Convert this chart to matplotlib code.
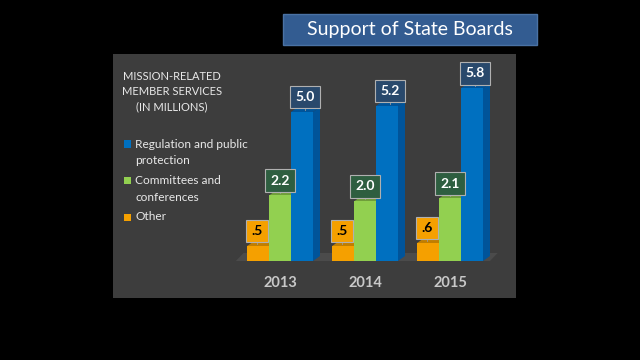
import matplotlib.pyplot as plt
from matplotlib.patches import Rectangle, Polygon
import numpy as np

# data
years = ['2013', '2014', '2015']
series = ['Regulation and public\nprotection', 'Committees and\nconferences', 'Other']
regulation = [5.0, 5.2, 5.8]
committees = [2.2, 2.0, 2.1]
other = [0.5, 0.5, 0.6]
value_text = {'Other': ['.5', '.5', '.6'],
              'Committees': ['2.2', '2.0', '2.1'],
              'Regulation': ['5.0', '5.2', '5.8']}

W, H = 640, 360
plt.rcParams['font.family'] = ['Lato', 'DejaVu Sans']

fig = plt.figure(figsize=(6.4, 3.6), dpi=100, facecolor='black')

def fx(px):
    return px / W

def fy(py):
    return 1 - py / H

# grey panel
fig.patches.append(Rectangle((fx(113), fy(298)), fx(516) - fx(113), fy(54) - fy(298),
                             transform=fig.transFigure, facecolor='#3d3d3d',
                             edgecolor='none', zorder=0))
# title box
fig.patches.append(Rectangle((fx(283), fy(45)), fx(537) - fx(283), fy(14) - fy(45),
                             transform=fig.transFigure, facecolor='#335c91',
                             edgecolor='#4a72a4', lw=1, zorder=0))
fig.text(fx(410), fy(30), 'Support of State Boards', color='white', fontsize=14,
         ha='center', va='center')

# legend
for i, line in enumerate(['MISSION-RELATED', 'MEMBER SERVICES', '(IN MILLIONS)']):
    fig.text(fx(172), fy(76 + i * 15.5), line, color='#e8e8e8', fontsize=8,
             ha='center', va='center')

colors = ['#0070c0', '#92d050', '#f5a000']
side_colors = ['#00549a', '#6f9e3a', '#c07e00']
leg_y = [144, 181, 217]
for lbl, c, y in zip(series, colors, leg_y):
    fig.patches.append(Rectangle((fx(124), fy(y + 3.5)), fx(7), 7 / H,
                                 transform=fig.transFigure, facecolor=c,
                                 edgecolor='none'))
    for j, part in enumerate(lbl.split('\n')):
        fig.text(fx(135), fy(y + j * 16), part, color='#e8e8e8', fontsize=8.6,
                 ha='left', va='center')

# bar axes: floor at y=261px, 29.8 px per unit; groups 85 px apart
unit_y = 29.8
unit_x = 85.0
x0_px = 280 - 0.6 * unit_x
ax = fig.add_axes([fx(x0_px), fy(261), 3.2 * unit_x / W, 7 * unit_y / H])
ax.set_zorder(3)
ax.patch.set_visible(False)
ax.set_xlim(-0.6, 2.6)
ax.set_ylim(0, 7)
ax.axis('off')

bw = 22 / unit_x
dx = 7 / unit_x
dy = 5 / unit_y

# floor
ax.add_patch(Polygon([(-0.52, 0), (2.47, 0), (2.47 + dx * 1.1, dy * 1.6),
                      (-0.52 + dx * 1.1, dy * 1.6)], closed=True,
                     facecolor='#4b4b4b', edgecolor='none', zorder=1))

x = np.arange(len(years))
groups = [(other, -1, 'Other'), (committees, 0, 'Committees'), (regulation, 1, 'Regulation')]
label_bg = {'Other': '#f5a000', 'Committees': '#2e5e40', 'Regulation': '#29496c'}
label_fg = {'Other': 'black', 'Committees': 'white', 'Regulation': 'white'}
cidx = {'Other': 2, 'Committees': 1, 'Regulation': 0}
label_dx = {'Other': -0.015, 'Committees': 0.0, 'Regulation': 0.035}

z = 2
for gi in range(len(years)):
    for vals, off, key in groups:
        c = colors[cidx[key]]
        sc = side_colors[cidx[key]]
        left = x[gi] + off * bw - bw / 2
        v = vals[gi]
        # side face
        ax.add_patch(Polygon([(left + bw, 0), (left + bw + dx, dy), (left + bw + dx, v + dy),
                              (left + bw, v)], closed=True, facecolor=sc,
                             edgecolor='none', zorder=z))
        # top face
        ax.add_patch(Polygon([(left, v), (left + bw, v), (left + bw + dx, v + dy),
                              (left + dx, v + dy)], closed=True, facecolor=sc,
                             edgecolor='none', zorder=z))
        ax.bar(left, v, width=bw, align='edge', color=c, zorder=z + 0.5,
               edgecolor='none')
        z += 1
        # value label
        cx = left + bw / 2 + label_dx[key]
        ty = v + 0.5
        ax.plot([cx, cx], [v + dy * 0.5, ty], color='#9a9a9a', lw=0.6, zorder=20)
        ax.text(cx, ty, value_text[key][gi], color=label_fg[key], fontsize=10,
                fontweight='bold', ha='center', va='center', zorder=21,
                bbox=dict(boxstyle='square,pad=0.38', facecolor=label_bg[key],
                          edgecolor='#b0b0b0', lw=0.8))

for gi, yr in enumerate(years):
    fig.text(fx(280 + gi * unit_x), fy(283), yr, color='#c8c8c8', fontsize=10.5,
             fontweight='bold', ha='center', va='center')

fig.savefig('out.png', dpi=100, facecolor='black')
